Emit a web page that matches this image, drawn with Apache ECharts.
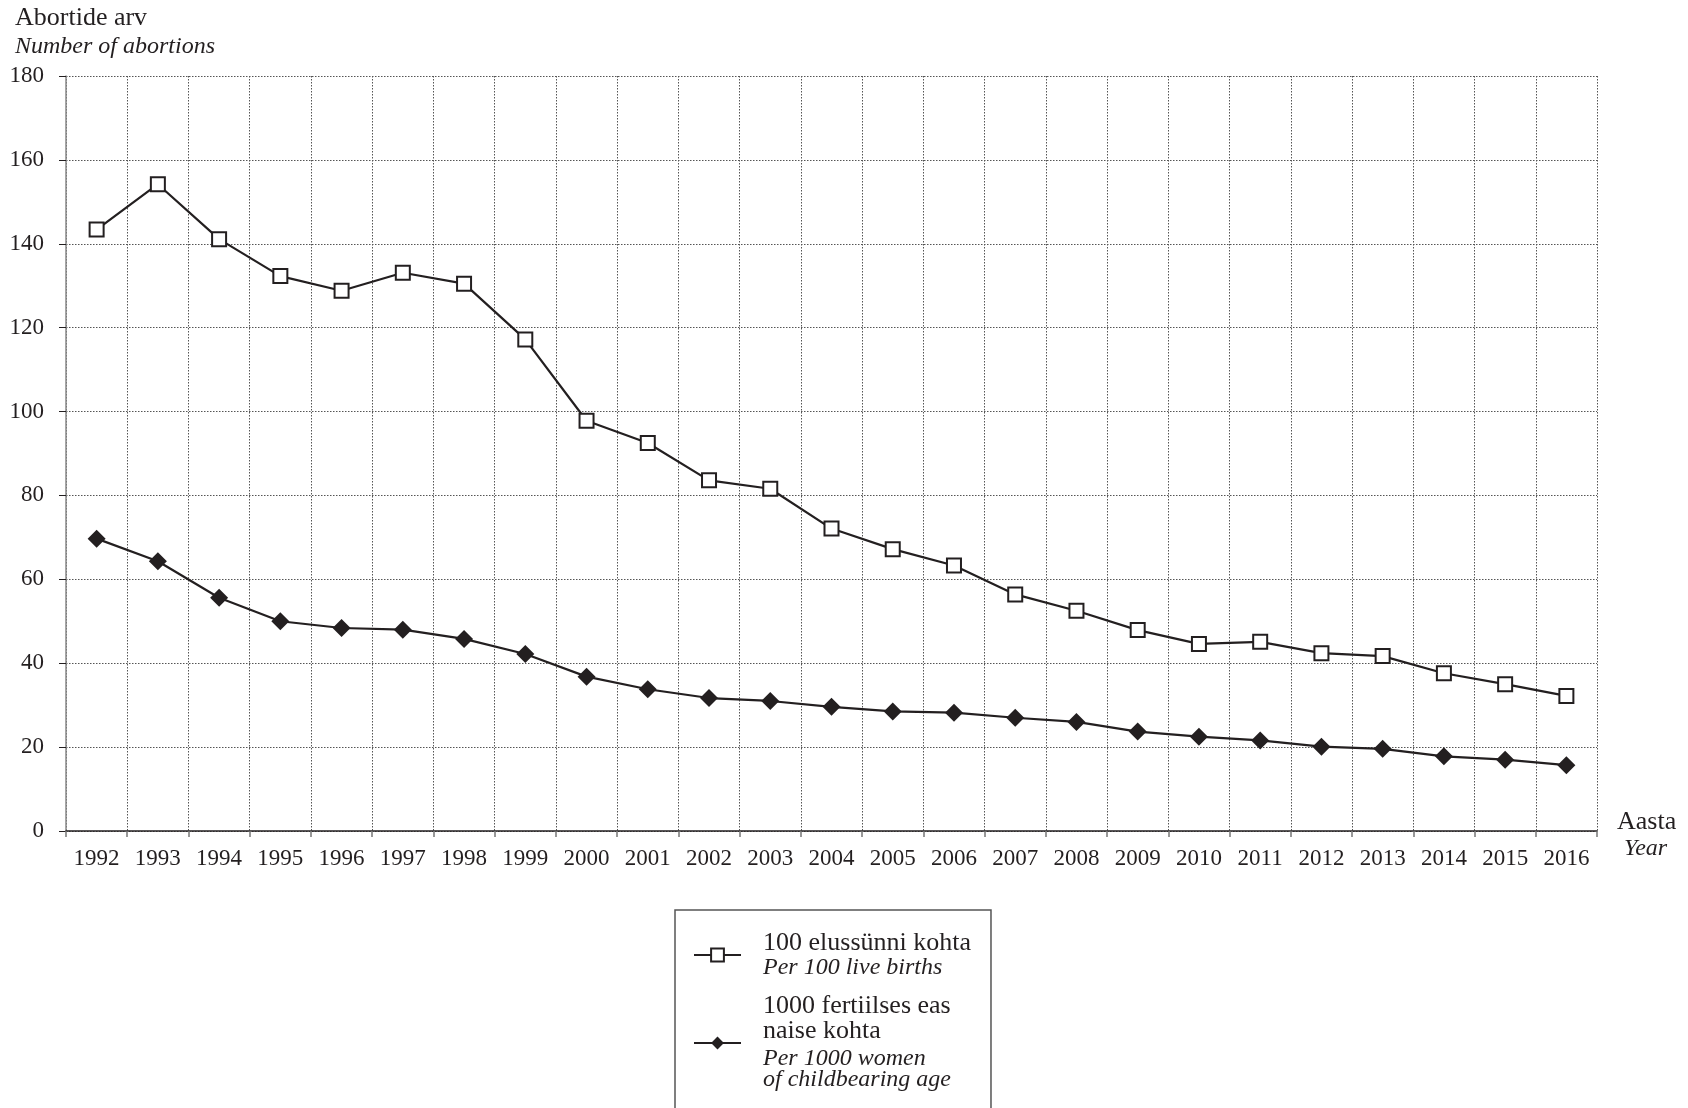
<!DOCTYPE html>
<html>
<head>
<meta charset="utf-8">
<script src="https://cdn.jsdelivr.net/npm/echarts@6/dist/echarts.min.js"></script>
<style>
html,body{margin:0;padding:0;background:#fff;}
#chart{width:1688px;height:1108px;}
</style>
</head>
<body>
<div id="chart"></div>
<script>
var years = ['1992','1993','1994','1995','1996','1997','1998','1999','2000','2001','2002','2003','2004','2005','2006','2007','2008','2009','2010','2011','2012','2013','2014','2015','2016'];
var perLiveBirths = [143.4,154.2,141.1,132.3,128.8,133.1,130.5,117.2,97.8,92.5,83.6,81.6,72.1,67.2,63.3,56.4,52.5,47.9,44.6,45.1,42.4,41.7,37.6,35.0,32.2];
var perWomen = [69.7,64.3,55.6,50.0,48.4,48.0,45.8,42.2,36.8,33.8,31.7,31.0,29.6,28.5,28.2,27.0,26.0,23.7,22.5,21.6,20.1,19.6,17.8,17.0,15.7];
var seriesNames = ['100 elussünni kohta', '1000 fertiilses eas naise kohta'];
var legendLines = [
  ['100 elussünni kohta'], ['Per 100 live births'],
  ['1000 fertiilses eas', 'naise kohta'], ['Per 1000 women', 'of childbearing age']
];
var yTicks = [0,20,40,60,80,100,120,140,160,180];

var INK = '#231f20';
var SERIF = '"Liberation Serif", "DejaVu Serif", serif';

var chart = echarts.init(document.getElementById('chart'));
var option = {
  backgroundColor: '#fff',
  animation: false,
  title: {
    text: 'Abortide arv',
    subtext: 'Number of abortions',
    left: 15, top: 5, padding: 0, itemGap: 4,
    textStyle: {fontFamily: SERIF, fontSize: 26, fontWeight: 'normal', color: INK},
    subtextStyle: {fontFamily: SERIF, fontSize: 24, fontStyle: 'italic', color: INK}
  },
  grid: {left: 66, right: 91, top: 76, bottom: 277, containLabel: false},
  xAxis: {
    type: 'category',
    data: years,
    boundaryGap: true,
    axisLine: {show: true, lineStyle: {color: INK, width: 1.5}},
    axisTick: {show: true, length: 6, lineStyle: {color: '#777', width: 1.5}},
    axisLabel: {fontFamily: SERIF, fontSize: 23, color: INK, margin: 16},
    splitLine: {show: true, lineStyle: {color: '#555', width: 1, type: [1.5, 1.5]}}
  },
  yAxis: {
    type: 'value',
    min: 0, max: 180, interval: 20,
    axisLine: {show: true, lineStyle: {color: '#888', width: 1.5}},
    axisTick: {show: true, length: 7, lineStyle: {color: INK, width: 1}},
    axisLabel: {fontFamily: SERIF, fontSize: 23, color: INK, margin: 22},
    splitLine: {show: true, lineStyle: {color: '#555', width: 1, type: [1.5, 1.5]}}
  },
  legend: {
    orient: 'vertical',
    left: 675, top: 910,
    width: 330, height: 400,
    padding: [20, 20, 40, 18],
    borderColor: '#555', borderWidth: 1.5,
    itemWidth: 47, itemHeight: 16, itemGap: 14,
    data: seriesNames,
    formatter: function (name) {
      var i = seriesNames.indexOf(name);
      var a = legendLines[i * 2].map(function (s) { return '{a|' + s + '}'; }).join('\n');
      var b = legendLines[i * 2 + 1].map(function (s, k) {
        return '{' + (k === 0 && i === 1 ? 'b2' : 'b') + '|' + s + '}';
      }).join('\n');
      return a + '\n' + b;
    },
    textStyle: {
      padding: [0, 0, 0, 17],
      rich: {
        a: {fontFamily: SERIF, fontSize: 26, lineHeight: 25, color: INK},
        b: {fontFamily: SERIF, fontSize: 24, fontStyle: 'italic', lineHeight: 24, color: INK},
        b2: {fontFamily: SERIF, fontSize: 24, fontStyle: 'italic', lineHeight: 24, color: INK, padding: [6, 0, 0, 0]}
      }
    }
  },
  graphic: [
    {type: 'text', left: 1617, top: 809, style: {text: 'Aasta', font: '26px ' + SERIF, fill: INK}},
    {type: 'text', left: 1624, top: 837, style: {text: 'Year', font: 'italic 24px ' + SERIF, fill: INK}}
  ],
  series: [
    {
      name: seriesNames[0], type: 'line', data: perLiveBirths,
      symbol: 'rect', symbolSize: 14,
      lineStyle: {color: INK, width: 2.2},
      itemStyle: {color: '#fff', borderColor: INK, borderWidth: 2},
      z: 3
    },
    {
      name: seriesNames[1], type: 'line', data: perWomen,
      symbol: 'diamond', symbolSize: 18,
      lineStyle: {color: INK, width: 2.2},
      itemStyle: {color: INK, borderColor: INK, borderWidth: 0},
      z: 3
    }
  ]
};
chart.setOption(option);
</script>
</body>
</html>
